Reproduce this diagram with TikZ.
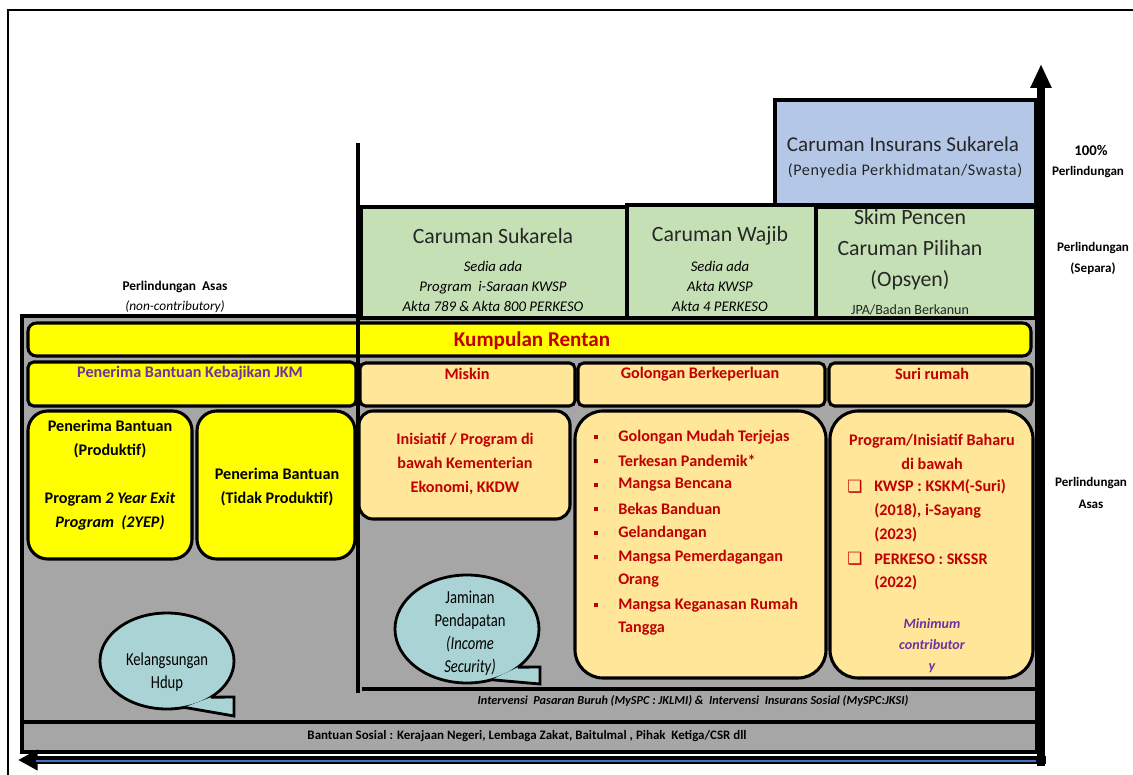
\documentclass[tikz,border=0pt]{standalone}
\usepackage{fontspec}
\setmainfont{Carlito}
\newfontfamily\symfont{DejaVu Sans}
\newfontfamily\narrowfont[FakeStretch=0.8]{Carlito}
\usetikzlibrary{arrows.meta,calc}
\definecolor{gry}{HTML}{A6A6A6}
\definecolor{yel}{HTML}{FFFF00}
\definecolor{pch}{HTML}{FFE699}
\definecolor{grn}{HTML}{C5E0B4}
\definecolor{blu}{HTML}{B4C7E7}
\definecolor{tea}{HTML}{A9D3D5}
\definecolor{rd}{HTML}{C00000}
\definecolor{prp}{HTML}{7030A0}
\definecolor{dgr}{HTML}{262626}
\definecolor{axb}{HTML}{4472C4}
\newcommand{\fsz}[2]{\fontsize{#1}{#2}\selectfont}

\begin{document}
\begin{tikzpicture}[x=0.025cm,y=-0.025cm,
		box/.style={draw=black,line width=2.2pt,rounded corners=#1},
		box/.default=4pt,
		bub/.style={draw=black,line width=2pt,fill=tea},
		ttl/.style={font=\fsz{15.5}{22}, text=dgr, align=center},
		sub/.style={font=\fsz{10.5}{14.2}\itshape, align=center},
		side/.style={font=\fsz{9.3}{15}\bfseries, align=center},
		redb/.style={font=\fsz{11.5}{17}\bfseries, text=rd, align=center},
		blk/.style={font=\fsz{11.5}{17}\bfseries, align=center},
		lst/.style={font=\fsz{11.5}{17}\bfseries, text=rd, anchor=west},
		bubtxt/.style={font=\narrowfont\fsz{13}{16.5}, align=center}]
		\tikzstyle{every node}+=[inner sep=0pt]
		\useasboundingbox (0,0) rectangle (1133,775);
		\draw[line width=1.2pt] (1140,10) -- (8,10) -- (8,780);
		\draw[fill=gry, line width=2.5pt] (22,316) rectangle (1037,752);
		\draw[box=6pt, fill=yel] (28,323) rectangle (1031,356);
		\draw[box, fill=yel] (28,362) rectangle (356,406);
		\draw[box, fill=pch] (360,363) rectangle (575,406);
		\draw[box, fill=pch] (578,363) rectangle (825,406);
		\draw[box, fill=pch] (829,363) rectangle (1032,406);
		\draw[box=14pt, fill=yel] (28,411) rectangle (192,559);
		\draw[box=14pt, fill=yel] (197,411) rectangle (355,559);
		\draw[box=10pt, fill=pch] (359,411) rectangle (570,519);
		\draw[box=20pt, fill=pch] (575,411) rectangle (826,678);
		\draw[box=20pt, fill=pch] (830,411) rectangle (1033,678);
		\draw[line width=2.2pt] (362,689) -- (1035,689);
		\draw[line width=2.2pt] (22,722) -- (1035,722);
		\draw[line width=2.2pt] (358,143) -- (358,693);
		\draw[box=0pt, line width=3pt, fill=blu] (775,100) rectangle (1036,205);
		\draw[box=0pt, line width=3pt, fill=grn] (361,207) rectangle (627,318);
		\draw[box=0pt, line width=3pt, fill=grn] (627,205) rectangle (816,318);
		\draw[box=0pt, line width=3pt, fill=grn] (816,207) rectangle (1036,318);
		\draw[bub] (167,661) ellipse [x radius=67, y radius=48];
		\coordinate (kelA) at ($(167,661)+(49:67 and 48)$);
		\coordinate (kelB) at ($(167,661)+(75:67 and 48)$);
		\fill[tea] (kelA) -- (234,697) -- (234,716) -- (kelB) -- cycle;
		\draw[line width=2pt] (kelA) -- (234,697) -- (234,716) -- (kelB);
		\draw[bub] (467,629) ellipse [x radius=72, y radius=54];
		\coordinate (jamA) at ($(467,629)+(45:72 and 54)$);
		\coordinate (jamB) at ($(467,629)+(70:72 and 54)$);
		\fill[tea] (jamA) -- (540,667) -- (540,684) -- (jamB) -- cycle;
		\draw[line width=2pt] (jamA) -- (540,667) -- (540,684) -- (jamB);
		\coordinate (ytop) at (1041,64);
		\coordinate (xend) at (18,760);
		\draw[line width=5pt, -{Triangle[width=14pt,length=17pt]}] (1041,766) -- (ytop);
		\draw[line width=5pt, -{Triangle[width=14pt,length=14pt]}] (1046,760) -- (xend);
		\draw[axb, line width=1.2pt] (1036,761) -- (36,761);
		\node[font=\fsz{15}{20}, text=dgr] (insT) at (903,144) {Caruman Insurans Sukarela};
		\node[font=\fsz{11.5}{16}\addfontfeature{LetterSpace=4}, text=dgr] (insS) at (905,171) {(Penyedia Perkhidmatan/Swasta)};
		\node[ttl] (sukT) at (493,236) {Caruman Sukarela};
		\node[sub] (sukS) at (493,286) {Sedia ada\\Program~ i-Saraan KWSP\\Akta 789 \& Akta 800 PERKESO};
		\node[ttl] (wajT) at (720,236) {Caruman Wajib};
		\node[sub] (wajS) at (720,286) {Sedia ada\\Akta KWSP\\Akta 4 PERKESO};
		\node[ttl] (skimT) at (910,250) {Skim Pencen\\Caruman Pilihan\\(Opsyen)};
		\node[font=\fsz{10}{12}, text=dgr] (skimS) at (910,310) {JPA/Badan Berkanun};
		\node[side, font=\fsz{10.5}{15}\bfseries] (pct) at (1091,150) {100\%};
		\node[side] (pctL) at (1088,172) {Perlindungan};
		\node[side] (separa) at (1093,258) {Perlindungan\\(Separa)};
		\node[side] (asasR) at (1091,493) {Perlindungan\\Asas};
		\node[side, font=\fsz{9.5}{15}\bfseries] (asasL) at (175,287) {Perlindungan~ Asas};
		\node[font=\fsz{9.5}{12}\itshape] (nonc) at (175,307) {(non-contributory)};
		\node[font=\fsz{15}{18}\bfseries, text=rd] (rentan) at (532,341) {Kumpulan Rentan};
		\node[redb, text=prp] (jkm) at (190,373) {Penerima Bantuan Kebajikan JKM};
		\node[redb] (miskin) at (467,374) {Miskin};
		\node[redb] (golB) at (700,374) {Golongan Berkeperluan};
		\node[redb] (suri) at (932,374) {Suri rumah};
		\node[blk] (prod) at (110,475) {Penerima Bantuan\\(Produktif)\\[17pt]Program \textit{2 Year Exit}\\\textit{Program~ (2YEP)}};
		\node[blk] (tprod) at (277,487) {Penerima Bantuan\\(Tidak Produktif)};
		\node[redb] (kkdw) at (465,464) {Inisiatif / Program di\\bawah Kementerian\\Ekonomi, KKDW};
		\foreach \y/\t [count=\i] in {437/Golongan Mudah Terjejas, 461/Terkesan Pandemik*, 485/Mangsa Bencana, 509/Bekas Banduan, 533/Gelandangan, 557/Mangsa Pemerdagangan, 605/Mangsa Keganasan Rumah}{
			\node[fill=rd, minimum size=3.5pt] (bul\i) at (596,\y) {};
			\node[lst] (gol\i) at (618,\y) {\t};
		}
		\node[lst] (gol8) at (618,581) {Orang};
		\node[lst] (gol9) at (618,629) {Tangga};
		\node[redb] (baru) at (932,452) {Program/Inisiatif Baharu\\di bawah};
		\node[redb, font=\symfont\fsz{12}{17}] (chk1) at (855,487) {❑};
		\node[lst] (kwsp1) at (874,487) {KWSP : KSKM(-Suri)};
		\node[lst] (kwsp2) at (874,511) {(2018), i-Sayang};
		\node[lst] (kwsp3) at (874,535) {(2023)};
		\node[redb, font=\symfont\fsz{12}{17}] (chk2) at (855,559) {❑};
		\node[lst] (perk1) at (874,559) {PERKESO : SKSSR};
		\node[lst] (perk2) at (874,583) {(2022)};
		\node[font=\fsz{10}{15}\bfseries\itshape, text=prp, align=center] (minc) at (932,646) {Minimum\\contributor\\y};
		\node[bubtxt] (kel) at (167,672) {Kelangsungan\\Hdup};
		\node[bubtxt] (jam) at (470,633) {Jaminan\\Pendapatan\\\textit{(Income}\\\textit{Security)}};
		\node[font=\fsz{8.7}{10}\bfseries\itshape] (interv) at (693,701) {Intervensi~ Pasaran Buruh (MySPC : JKLMI) \&~ Intervensi~ Insurans Sosial (MySPC:JKSI)};
		\node[font=\fsz{9.2}{11}\bfseries] (bsos) at (527,736) {Bantuan Sosial : Kerajaan Negeri, Lembaga Zakat, Baitulmal , Pihak~ Ketiga/CSR dll};
\end{tikzpicture}
\end{document}
